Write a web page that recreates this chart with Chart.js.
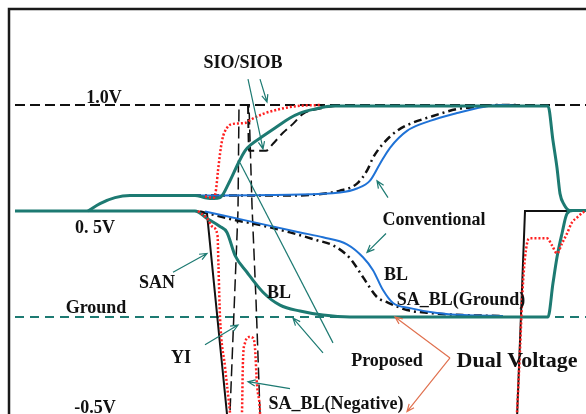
<!DOCTYPE html>
<html>
<head>
<meta charset="utf-8">
<script src="https://cdn.jsdelivr.net/npm/chart.js@4/dist/chart.umd.min.js"></script>
<style>
  html, body { margin: 0; padding: 0; background: #ffffff; }
  #wrap { width: 586px; height: 414px; }
</style>
</head>
<body>
<div id="wrap"><canvas id="c" width="586" height="414"></canvas></div>
<script>
// Sense-amplifier timing waveforms: time (ns) vs. voltage (V)
const timeRange = [0, 57.7];
const voltRange = [-0.4575, 1.4528];

// Reference levels
const level1V = [[0.6, 1.0], [57.7, 1.0]];
const levelGround = [[0.6, 0], [57.7, 0]];

// Proposed scheme (teal)
const proposedBL = [[0.6, 0.5], [18.6, 0.5], [19.8, 0.465], [21.1, 0.427], [21.8, 0.399], [22.6, 0.291],
  [23.8, 0.211], [25.4, 0.117], [27.1, 0.056], [29.1, 0.028], [31.4, 0.009], [34.1, 0], [53.9, 0],
  [54.4, 0.160], [54.8, 0.282], [55.3, 0.394], [55.8, 0.488], [56.4, 0.502], [57.7, 0.502]];
const proposedSIO = [[7.9, 0.5], [9.1, 0.535], [10.6, 0.563], [12.1, 0.573], [18.6, 0.573], [19.6, 0.563],
  [20.5, 0.559], [21.1, 0.563], [22.1, 0.643], [22.9, 0.723], [23.6, 0.784], [24.3, 0.817], [25.3, 0.850],
  [26.6, 0.892], [28.1, 0.939], [29.1, 0.962], [30.6, 0.981], [32.4, 0.995], [53.9, 0.995], [54.4, 0.831],
  [54.8, 0.704], [55.1, 0.582], [55.5, 0.531], [56.1, 0.502], [57.7, 0.502]];

// Conventional scheme (blue solid and black dash-dot)
const convBLB = [[16.1, 0.573], [28.1, 0.577], [33.1, 0.587], [34.8, 0.606], [36.1, 0.643], [37.1, 0.723],
  [38.1, 0.798], [39.8, 0.878], [42.1, 0.925], [44.8, 0.962], [47.4, 0.991], [49.4, 1.0], [51.1, 0.995]];
const convSABLB = [[16.6, 0.573], [28.1, 0.573], [33.1, 0.596], [34.8, 0.629], [35.8, 0.690], [36.4, 0.751],
  [37.4, 0.817], [38.8, 0.878], [40.1, 0.911], [42.4, 0.948], [44.8, 0.981], [46.8, 0.991], [48.8, 1.0], [50.8, 1.0]];
const convBL = [[19.6, 0.498], [24.1, 0.451], [29.1, 0.399], [31.4, 0.376], [33.8, 0.343], [35.4, 0.282],
  [36.4, 0.221], [37.4, 0.127], [38.4, 0.066], [40.1, 0.042], [42.8, 0.019], [45.4, 0.009], [49.4, 0.005]];
const convSABL = [[19.1, 0.498], [22.8, 0.455], [24.4, 0.441], [28.1, 0.399], [30.8, 0.362], [32.4, 0.338],
  [34.1, 0.277], [35.4, 0.188], [36.8, 0.094], [37.8, 0.070], [39.8, 0.033], [42.1, 0.019], [45.4, 0.009], [49.1, 0.005]];

// Sense-amp enable and column select
const san = [[18.6, 0.5], [19.8, 0.488], [22.1, -0.6], [50.7, -0.6], [51.6, 0.5], [57.7, 0.5]];
const yi = [[22.0, -0.6], [22.1, -0.451], [22.9, 0.502], [23.0, 1.0], [24.0, 1.0], [24.3, 0.526],
  [24.7, 0.080], [25.1, -0.451], [25.2, -0.6]];
const convSIOB = [[23.9, 1.0], [24.0, 0.784], [25.7, 0.784], [26.4, 0.817], [27.4, 0.869], [28.4, 0.911],
  [29.4, 0.958], [31.4, 0.986], [32.6, 0.995]];

// Dual-voltage (negative) sense-amp nodes, red dotted
const dvSIO = [[19.6, 0.568], [20.5, 0.563], [20.7, 0.600], [20.9, 0.690], [21.3, 0.831], [21.8, 0.892],
  [22.4, 0.911], [23.6, 0.915], [24.3, 0.934], [25.4, 0.958], [27.1, 0.981], [28.8, 0.995], [31.1, 1.0]];
const dvSAN = [[18.9, 0.5], [19.8, 0.465], [20.4, 0.423], [20.85, 0.385], [20.95, 0.235], [21.1, 0],
  [21.6, -0.235], [22.1, -0.451], [22.4, -0.6]];
const dvSABLneg = [[23.2, -0.6], [23.3, -0.451], [23.4, -0.202], [23.6, -0.122], [24.0, -0.094], [24.4, -0.099],
  [24.6, -0.146], [24.8, -0.319], [25.1, -0.451], [25.2, -0.6]];
const dvRestore = [[50.6, -0.6], [50.8, -0.451], [51.1, -0.155], [51.4, 0.160], [51.8, 0.347], [52.1, 0.371],
  [53.8, 0.371], [54.3, 0.338], [54.8, 0.300], [55.3, 0.347], [55.8, 0.394], [56.3, 0.446], [56.8, 0.469],
  [57.4, 0.493], [57.7, 0.5]];

// Text labels: text, time, volt, size
const labelText = ['SIO/SIOB', '1.0V', '0. 5V', 'Ground', '-0.5V', 'SAN', 'YI', 'BL', 'BL',
  'Conventional', 'SA_BL(Ground)', 'Proposed', 'Dual Voltage', 'SA_BL(Negative)'];
const labelTime = [23.4, 9.5, 8.6, 8.7, 8.6, 14.8, 17.2, 27.0, 38.7, 42.5, 45.2, 37.8, 50.8, 32.7];
const labelVolt = [1.174, 1.010, 0.394, 0.019, -0.451, 0.136, -0.216, 0.089, 0.174, 0.432, 0.056, -0.230, -0.235, -0.432];
const labelSize = [18, 18, 18, 18, 18, 18, 18, 18, 18, 18, 18, 18, 22, 18];

// Pointer lines: from (time, volt) to (time, volt)
const pointerFrom = [[23.9, 1.122], [25.1, 1.122], [16.4, 0.211], [19.6, -0.131], [28.1, -0.338],
  [32.4, -0.122], [31.4, -0.169], [37.9, 0.563], [37.7, 0.394], [44.1, -0.193], [44.1, -0.193]];
const pointerTo = [[25.4, 0.793], [25.8, 1.014], [19.8, 0.300], [22.9, -0.038], [23.9, -0.305],
  [23.1, 0.728], [28.4, -0.005], [36.8, 0.643], [35.8, 0.305], [38.6, 0.0], [39.8, -0.446]];
const pointerHead = [true, true, true, true, true, false, true, true, true, true, true];
const pointerTeal = [true, true, true, true, true, true, true, true, true, false, false];

const TEAL = '#1d7a72';
const BLUE = '#1f72d6';
const RED = '#ff2020';
const BLACK = '#111111';
const ORANGE = '#e0714f';

const pts = a => a.map(p => ({ x: p[0], y: p[1] }));
const series = (data, color, width, dash, smooth) => ({
  data: pts(data), borderColor: color, borderWidth: width, borderDash: dash || [],
  showLine: true, pointRadius: 0, fill: false, borderCapStyle: 'butt',
  tension: smooth ? 0.4 : 0,
  cubicInterpolationMode: smooth ? 'monotone' : 'default'
});

const annotations = {
  id: 'annotations',
  beforeDraw(chart) {
    const { ctx, chartArea: a } = chart;
    ctx.save();
    ctx.strokeStyle = '#1a1a1a';
    ctx.lineWidth = 2.5;
    ctx.beginPath();
    ctx.moveTo(a.left, chart.height + 5);
    ctx.lineTo(a.left, a.top);
    ctx.lineTo(chart.width + 5, a.top);
    ctx.stroke();
    ctx.restore();
  },
  afterDatasetsDraw(chart) {
    const { ctx } = chart;
    const sx = chart.scales.x, sy = chart.scales.y;
    ctx.save();
    pointerFrom.forEach((f, i) => {
      const x1 = sx.getPixelForValue(f[0]), y1 = sy.getPixelForValue(f[1]);
      const x2 = sx.getPixelForValue(pointerTo[i][0]), y2 = sy.getPixelForValue(pointerTo[i][1]);
      ctx.strokeStyle = pointerTeal[i] ? TEAL : ORANGE;
      ctx.lineWidth = 1.2;
      ctx.setLineDash([]);
      ctx.beginPath();
      ctx.moveTo(x1, y1);
      ctx.lineTo(x2, y2);
      if (pointerHead[i]) {
        const ang = Math.atan2(y2 - y1, x2 - x1);
        const len = 8;
        ctx.moveTo(x2 - len * Math.cos(ang - 0.4), y2 - len * Math.sin(ang - 0.4));
        ctx.lineTo(x2, y2);
        ctx.lineTo(x2 - len * Math.cos(ang + 0.4), y2 - len * Math.sin(ang + 0.4));
      }
      ctx.stroke();
    });
    ctx.fillStyle = '#111111';
    ctx.textAlign = 'center';
    ctx.textBaseline = 'alphabetic';
    labelText.forEach((t, i) => {
      ctx.font = 'bold ' + labelSize[i] + 'px "Liberation Serif", "Times New Roman", serif';
      ctx.fillText(t, sx.getPixelForValue(labelTime[i]), sy.getPixelForValue(labelVolt[i]));
    });
    ctx.restore();
  }
};

new Chart(document.getElementById('c'), {
  type: 'scatter',
  data: {
    datasets: [
      series(dvSIO, RED, 2.5, [2, 2], true),
      series(dvSAN, RED, 2.5, [2, 2], true),
      series(dvSABLneg, RED, 2.5, [2, 2], true),
      series(dvRestore, RED, 2.5, [2, 2], true),
      series(proposedSIO, TEAL, 3, [], true),
      series(proposedBL, TEAL, 3, [], true),
      series(convBLB, BLUE, 2, [], true),
      series(convBL, BLUE, 2, [], true),
      series(convSABLB, BLACK, 2.5, [8, 4, 2, 4], true),
      series(convSABL, BLACK, 2.5, [8, 4, 2, 4], true),
      series(san, BLACK, 2, [], false),
      series(yi, BLACK, 1.5, [12, 5], false),
      series(convSIOB, BLACK, 2, [9, 5], true),
      series(level1V, BLACK, 2, [10, 5], false),
      series(levelGround, TEAL, 2, [9, 6], false)
    ]
  },
  options: {
    responsive: false,
    devicePixelRatio: 1,
    animation: false,
    layout: { padding: { left: 9, top: 9, right: 0, bottom: 0 } },
    plugins: { legend: { display: false }, tooltip: { enabled: false } },
    scales: {
      x: { type: 'linear', display: false, min: timeRange[0], max: timeRange[1] },
      y: { type: 'linear', display: false, min: voltRange[0], max: voltRange[1] }
    }
  },
  plugins: [annotations]
});
</script>
</body>
</html>
